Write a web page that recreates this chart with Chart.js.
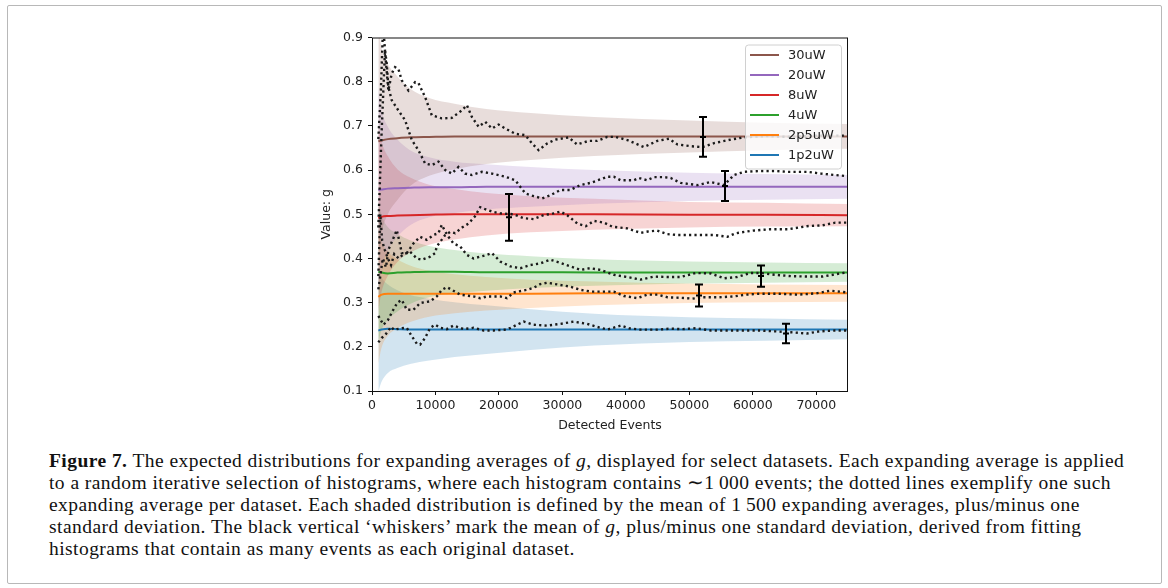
<!DOCTYPE html>
<html>
<head>
<meta charset="utf-8">
<script src="https://cdn.jsdelivr.net/npm/chart.js@4.4.1/dist/chart.umd.min.js"></script>
<style>
  html, body { margin: 0; padding: 0; background: #fff; }
  body { width: 1168px; height: 588px; position: relative; overflow: hidden; }
  #frame { position: absolute; left: 7px; top: 5px; width: 1153px; height: 577px; border: 1px solid #b8b8b8; border-radius: 2px; }
  #plot { position: absolute; left: 310px; top: 25px; }
  #caption { position: absolute; left: 49px; top: 450px; font-family: 'Liberation Serif', serif; font-size: 19.5px; letter-spacing: 0.45px; line-height: 22px; color: #111; white-space: nowrap; }
</style>
</head>
<body>
<div id="frame"></div>
<canvas id="plot" width="560" height="420"></canvas>
<div id="caption"><b>Figure 7.</b> The expected distributions for expanding averages of <i>g</i>, displayed for select datasets. Each expanding average is applied<br>to a random iterative selection of histograms, where each histogram contains ∼1&#8201;000 events; the dotted lines exemplify one such<br>expanding average per dataset. Each shaded distribution is defined by the mean of 1&#8201;500 expanding averages, plus/minus one<br>standard deviation. The black vertical ‘whiskers’ mark the mean of <i>g</i>, plus/minus one standard deviation, derived from fitting<br>histograms that contain as many events as each original dataset.</div>

<script>
// ---- datasets (laser power) ----
const seriesNames = ['30uW', '20uW', '8uW', '4uW', '2p5uW', '1p2uW'];
const seriesColors = ['#8c564b', '#9467bd', '#d62728', '#2ca02c', '#ff7f0e', '#1f77b4'];

const xTickValues = [0, 10000, 20000, 30000, 40000, 50000, 60000, 70000];
const yTickValues = [0.1, 0.2, 0.3, 0.4, 0.5, 0.6, 0.7, 0.8, 0.9];

// detected events where the mean of the expanding averages is sampled
const bandX = [1000, 1500, 2500, 4000, 6000, 9000, 13000, 18000, 25000, 35000, 50000, 62000, 75000];

// mean of 1 500 expanding averages
const mean30uW  = [0.665, 0.667, 0.670, 0.672, 0.674, 0.675, 0.676, 0.676, 0.676, 0.676, 0.676, 0.676, 0.676];
const mean20uW  = [0.555, 0.556, 0.558, 0.559, 0.560, 0.561, 0.561, 0.562, 0.562, 0.562, 0.562, 0.562, 0.562];
const mean8uW   = [0.491, 0.494, 0.496, 0.497, 0.498, 0.499, 0.500, 0.500, 0.500, 0.500, 0.499, 0.499, 0.498];
const mean4uW   = [0.370, 0.368, 0.366, 0.368, 0.369, 0.370, 0.370, 0.369, 0.369, 0.368, 0.368, 0.368, 0.368];
const mean2p5uW = [0.313, 0.318, 0.320, 0.320, 0.320, 0.320, 0.320, 0.320, 0.320, 0.321, 0.321, 0.321, 0.321];
const mean1p2uW = [0.237, 0.239, 0.241, 0.240, 0.239, 0.239, 0.239, 0.239, 0.239, 0.239, 0.239, 0.239, 0.239];

// one standard deviation around the mean
const sd30uW  = [0.260, 0.210, 0.170, 0.140, 0.110, 0.088, 0.074, 0.062, 0.053, 0.044, 0.036, 0.031, 0.028];
const sd20uW  = [0.230, 0.180, 0.140, 0.110, 0.085, 0.068, 0.058, 0.051, 0.045, 0.038, 0.032, 0.029, 0.027];
const sd8uW   = [0.210, 0.170, 0.135, 0.105, 0.085, 0.068, 0.057, 0.048, 0.041, 0.035, 0.029, 0.027, 0.025];
const sd4uW   = [0.160, 0.130, 0.105, 0.088, 0.072, 0.058, 0.049, 0.042, 0.036, 0.030, 0.025, 0.023, 0.021];
const sd2p5uW = [0.150, 0.120, 0.095, 0.078, 0.064, 0.052, 0.044, 0.038, 0.032, 0.027, 0.022, 0.020, 0.019];
const sd1p2uW = [0.138, 0.118, 0.100, 0.088, 0.078, 0.070, 0.062, 0.055, 0.046, 0.036, 0.028, 0.025, 0.022];

// a single expanding average per dataset: [events, g]
const run30uW = [[1000,0.67],[1400,0.78],[1750,0.93],[2100,0.86],[2580,0.78],[3100,0.818],[3630,0.833],[4150,0.829],[4690,0.803],[5740,0.78],[6790,0.799],[7320,0.797],[8370,0.765],[9420,0.724],[11000,0.717],[12580,0.718],[14160,0.735],[14950,0.747],[15740,0.72],[16800,0.698],[17840,0.709],[18900,0.694],[19950,0.703],[21000,0.694],[22580,0.682],[24160,0.679],[25220,0.66],[26260,0.645],[27580,0.66],[28900,0.669],[31000,0.674],[32320,0.658],[34160,0.666],[35480,0.666],[37060,0.675],[38370,0.675],[40220,0.668],[42840,0.652],[44950,0.666],[46790,0.671],[48110,0.658],[50210,0.654],[52060,0.652],[53900,0.661],[56530,0.669],[58630,0.674],[62000,0.677],[66000,0.675],[70000,0.678],[75000,0.678]];
const run20uW = [[1000,0.47],[1500,0.68],[2050,0.871],[2320,0.841],[2580,0.788],[3110,0.758],[4150,0.735],[5210,0.713],[6270,0.668],[7310,0.645],[8370,0.615],[9420,0.611],[10470,0.619],[11530,0.6],[12580,0.592],[13630,0.607],[14690,0.592],[15740,0.589],[17320,0.596],[18900,0.592],[21000,0.585],[22580,0.577],[23370,0.562],[24160,0.547],[25470,0.541],[26800,0.536],[28110,0.543],[29690,0.555],[31260,0.555],[32840,0.566],[34420,0.571],[36000,0.579],[37060,0.585],[38100,0.585],[39160,0.577],[41260,0.577],[42050,0.582],[43370,0.577],[44420,0.584],[46000,0.584],[47050,0.582],[48640,0.571],[51270,0.566],[53370,0.573],[55470,0.566],[57050,0.589],[58630,0.596],[61260,0.598],[63370,0.598],[65470,0.596],[68630,0.596],[70740,0.592],[72840,0.589],[75000,0.586]];
const run8uW = [[1000,0.36],[1300,0.5],[1600,0.44],[2000,0.42],[2500,0.40],[3000,0.385],[3500,0.41],[4200,0.40],[5000,0.41],[6000,0.415],[7060,0.40],[7840,0.397],[9160,0.404],[9950,0.412],[10210,0.427],[11530,0.453],[12300,0.46],[13100,0.457],[14200,0.47],[15210,0.479],[16200,0.495],[17050,0.516],[18110,0.51],[19200,0.505],[20210,0.502],[22310,0.5],[23890,0.491],[25470,0.489],[27050,0.498],[28630,0.502],[29690,0.506],[30740,0.498],[32360,0.479],[33690,0.473],[34990,0.485],[36530,0.481],[37850,0.472],[40220,0.468],[42320,0.458],[43500,0.461],[44950,0.463],[46530,0.455],[48110,0.453],[51000,0.453],[54000,0.453],[56000,0.449],[57300,0.457],[60000,0.463],[62700,0.466],[65500,0.466],[68500,0.473],[71000,0.475],[73000,0.481],[75000,0.481]];
const run4uW = [[1000,0.33],[1300,0.36],[1700,0.40],[2200,0.38],[2600,0.42],[3200,0.44],[3900,0.464],[4300,0.44],[4690,0.412],[5480,0.412],[6530,0.434],[7580,0.449],[8630,0.442],[9690,0.453],[10470,0.457],[11000,0.476],[11530,0.461],[12050,0.449],[12840,0.434],[13900,0.427],[14950,0.408],[16000,0.4],[17050,0.404],[18110,0.408],[18900,0.412],[20210,0.393],[21800,0.382],[23370,0.378],[24950,0.385],[26530,0.389],[28110,0.397],[29690,0.39],[31260,0.382],[32840,0.374],[34420,0.378],[36000,0.374],[38100,0.363],[40220,0.358],[42320,0.352],[44420,0.359],[46530,0.358],[48640,0.358],[51000,0.367],[53400,0.366],[55500,0.355],[57500,0.358],[59600,0.367],[61300,0.367],[63400,0.363],[66000,0.36],[68600,0.359],[71000,0.359],[73000,0.364],[75000,0.369]];
const run2p5uW = [[1000,0.27],[1400,0.26],[1800,0.25],[2500,0.26],[3200,0.28],[4000,0.30],[4690,0.306],[5480,0.284],[6530,0.284],[7580,0.299],[9160,0.303],[10210,0.314],[11000,0.329],[11790,0.335],[12580,0.329],[13900,0.318],[16000,0.314],[17050,0.31],[18110,0.314],[20210,0.314],[21270,0.31],[22310,0.323],[24430,0.329],[25500,0.334],[26530,0.342],[27580,0.345],[29690,0.34],[31260,0.336],[32840,0.329],[34420,0.325],[36000,0.325],[38100,0.325],[39700,0.315],[41800,0.31],[43400,0.318],[45000,0.318],[46600,0.312],[48600,0.311],[50500,0.309],[52000,0.312],[54500,0.312],[57000,0.314],[58800,0.318],[61000,0.32],[64000,0.32],[67000,0.318],[70000,0.321],[72200,0.327],[75000,0.323]];
const run1p2uW = [[1000,0.21],[1500,0.22],[2000,0.225],[2500,0.235],[3000,0.245],[3500,0.238],[3900,0.24],[4700,0.242],[5480,0.243],[6270,0.224],[7060,0.207],[7580,0.205],[8370,0.22],[9160,0.243],[9950,0.25],[10740,0.243],[11790,0.24],[12840,0.248],[14420,0.24],[16000,0.243],[17580,0.237],[19160,0.237],[21270,0.239],[22850,0.25],[23900,0.257],[25470,0.25],[27580,0.248],[29690,0.252],[31790,0.257],[33900,0.252],[35500,0.245],[37060,0.239],[39200,0.248],[40500,0.242],[42300,0.239],[45000,0.239],[47000,0.241],[49000,0.24],[51000,0.242],[53400,0.237],[56000,0.237],[58500,0.237],[61000,0.237],[63500,0.235],[66000,0.233],[68500,0.23],[70500,0.235],[73000,0.237],[75000,0.237]];

// fitted g for the full datasets (whiskers)
const whiskerX    = [52200, 55600, 21600, 61300, 51500, 65200];
const whiskerMean = [0.675, 0.564, 0.493, 0.360, 0.316, 0.230];
const whiskerSd   = [0.045, 0.034, 0.053, 0.024, 0.025, 0.022];

const meanLines = [mean30uW, mean20uW, mean8uW, mean4uW, mean2p5uW, mean1p2uW];
const spreads = [sd30uW, sd20uW, sd8uW, sd4uW, sd2p5uW, sd1p2uW];
const runs = [run30uW, run20uW, run8uW, run4uW, run2p5uW, run1p2uW];

const tickFont = { family: 'DejaVu Sans', size: 12.5 };
const legendFont = { family: 'DejaVu Sans', size: 13 };
const inkColor = '#222';

function withAlpha(hex, a) {
    const n = parseInt(hex.slice(1), 16);
    return `rgba(${(n >> 16) & 255}, ${(n >> 8) & 255}, ${n & 255}, ${a})`;
}

const datasets = [];

// dotted example runs, drawn on top
runs.forEach((run, i) => {
    datasets.push({
        label: seriesNames[i] + ' run',
        data: run.map(([x, y]) => ({ x, y })),
        borderColor: '#1a1a1a',
        borderWidth: 2.4,
        borderDash: [2.2, 3.2],
        pointRadius: 0,
        tension: 0,
        fill: false,
        order: 0
    });
});

// mean lines
meanLines.forEach((m, i) => {
    datasets.push({
        label: seriesNames[i],
        data: bandX.map((x, k) => ({ x, y: m[k] })),
        borderColor: seriesColors[i],
        borderWidth: 2,
        pointRadius: 0,
        tension: 0.4,
        cubicInterpolationMode: 'monotone',
        fill: false,
        order: 1
    });
});

// shaded +/- one standard deviation
meanLines.forEach((m, i) => {
    const sd = spreads[i];
    datasets.push({
        label: seriesNames[i] + ' upper',
        data: bandX.map((x, k) => ({ x, y: m[k] + sd[k] })),
        borderWidth: 0,
        borderColor: 'rgba(0,0,0,0)',
        backgroundColor: withAlpha(seriesColors[i], 0.2),
        pointRadius: 0,
        tension: 0.4,
        cubicInterpolationMode: 'monotone',
        fill: '+1',
        order: 2
    });
    datasets.push({
        label: seriesNames[i] + ' lower',
        data: bandX.map((x, k) => ({ x, y: m[k] - sd[k] })),
        borderWidth: 0,
        borderColor: 'rgba(0,0,0,0)',
        pointRadius: 0,
        tension: 0.4,
        cubicInterpolationMode: 'monotone',
        fill: false,
        order: 2
    });
});

// whiskers, axes box and legend
const figureOverlay = {
    id: 'figureOverlay',
    afterDatasetsDraw(chart) {
        const ctx = chart.ctx;
        const xs = chart.scales.x, ys = chart.scales.y;
        const area = chart.chartArea;
        ctx.save();
        ctx.strokeStyle = '#000';
        ctx.lineWidth = 2;
        whiskerX.forEach((wx, i) => {
            const px = Math.round(xs.getPixelForValue(wx));
            const top = ys.getPixelForValue(whiskerMean[i] + whiskerSd[i]);
            const bot = ys.getPixelForValue(whiskerMean[i] - whiskerSd[i]);
            const mid = ys.getPixelForValue(whiskerMean[i]);
            ctx.beginPath();
            ctx.moveTo(px, top); ctx.lineTo(px, bot);
            ctx.moveTo(px - 4, top); ctx.lineTo(px + 4, top);
            ctx.moveTo(px - 4, bot); ctx.lineTo(px + 4, bot);
            ctx.moveTo(px - 3, mid); ctx.lineTo(px + 3, mid);
            ctx.stroke();
        });
        ctx.lineWidth = 1;
        ctx.strokeStyle = '#111';
        ctx.strokeRect(area.left + 0.5, area.top + 0.5, area.right - area.left - 1, area.bottom - area.top);
        ctx.restore();
    },
    afterDraw(chart) {
        const ctx = chart.ctx;
        const area = chart.chartArea;
        const w = 96, h = 124;
        const bx = area.right - 7 - w, by = area.top + 7;
        ctx.save();
        ctx.beginPath();
        ctx.roundRect(bx + 0.5, by + 0.5, w, h, 3);
        ctx.fillStyle = 'rgba(255,255,255,0.8)';
        ctx.fill();
        ctx.strokeStyle = '#d0d0d0';
        ctx.lineWidth = 1;
        ctx.stroke();
        ctx.font = `${legendFont.size}px ${legendFont.family}`;
        ctx.textBaseline = 'middle';
        ctx.fillStyle = inkColor;
        seriesNames.forEach((name, i) => {
            const ry = by + 10.5 + i * 20;
            ctx.strokeStyle = seriesColors[i];
            ctx.lineWidth = 2;
            ctx.beginPath();
            ctx.moveTo(bx + 5, ry);
            ctx.lineTo(bx + 34, ry);
            ctx.stroke();
            ctx.fillText(name, bx + 43, ry + 0.5);
        });
        ctx.restore();
    }
};

new Chart(document.getElementById('plot'), {
    type: 'line',
    data: { datasets },
    options: {
        responsive: false,
        animation: false,
        events: [],
        devicePixelRatio: 1,
        layout: { padding: { left: 0, right: 22, top: 12, bottom: 0 } },
        plugins: {
            legend: { display: false },
            tooltip: { enabled: false }
        },
        scales: {
            x: {
                type: 'linear',
                min: 0,
                max: 75000,
                afterBuildTicks: s => { s.ticks = xTickValues.map(v => ({ value: v })); },
                afterFit: s => { s.height = 54; },
                border: { display: false },
                grid: { drawOnChartArea: false, tickLength: 4, color: '#111' },
                ticks: { color: inkColor, font: tickFont, padding: 3, maxRotation: 0, autoSkip: false, callback: v => String(v) },
                title: { display: true, text: 'Detected Events', color: inkColor, font: tickFont, padding: { top: 0, bottom: 12 } }
            },
            y: {
                type: 'linear',
                min: 0.1,
                max: 0.9,
                afterBuildTicks: s => { s.ticks = yTickValues.map(v => ({ value: v })); },
                afterFit: s => { s.width = 62; },
                border: { display: false },
                grid: { drawOnChartArea: false, tickLength: 4, color: '#111' },
                ticks: { color: inkColor, font: tickFont, padding: 5, autoSkip: false, callback: v => v.toFixed(1) },
                title: { display: true, text: 'Value: g', color: inkColor, font: tickFont, padding: { top: 9, bottom: 0 } }
            }
        }
    },
    plugins: [figureOverlay]
});
</script>
</body>
</html>
